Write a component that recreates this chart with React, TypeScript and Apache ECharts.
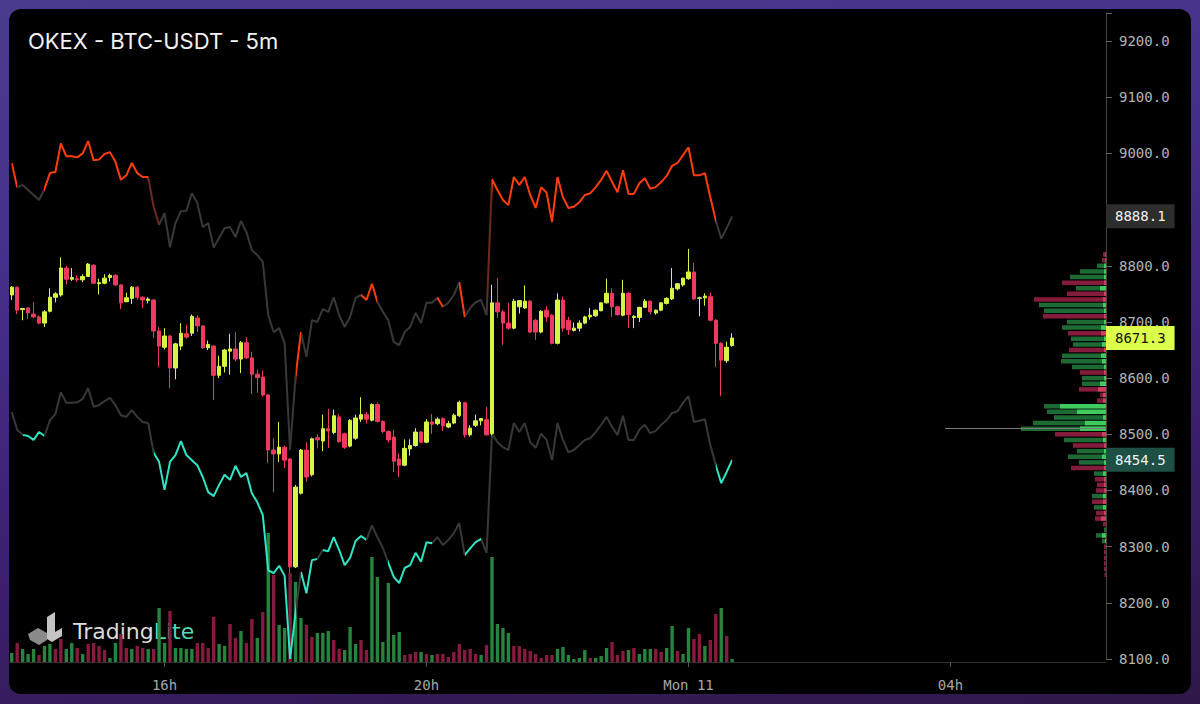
import { useEffect, useRef } from 'react';
import * as echarts from 'echarts';

// ---------- DATA ----------
const START_MINUTE = 13 * 60 + 40; // first candle 13:40
const STEP_MIN = 5;
const SLOT_COUNT = 201; // axis runs to 06:20
const AXIS_MARKS = ['16:00', '20:00', '00:00', '04:00'];

// [open, close, low, high]
const CANDLES: number[][] = [
  [8748, 8762, 8739, 8764], [8762, 8721, 8714, 8763], [8722, 8724, 8703, 8725], [8725, 8716, 8705, 8726],
  [8714, 8709, 8707, 8735], [8709, 8698, 8696, 8712], [8698, 8718, 8691, 8721], [8719, 8744, 8717, 8760],
  [8744, 8750, 8735, 8753], [8748, 8796, 8745, 8815], [8796, 8776, 8767, 8800], [8776, 8779, 8773, 8796],
  [8777, 8775, 8771, 8783], [8775, 8781, 8771, 8785], [8781, 8803, 8780, 8805], [8801, 8769, 8768, 8803],
  [8768, 8770, 8749, 8777], [8769, 8778, 8767, 8785], [8779, 8783, 8772, 8786], [8783, 8766, 8764, 8785],
  [8766, 8734, 8723, 8767], [8736, 8743, 8735, 8752], [8742, 8762, 8732, 8764], [8762, 8744, 8739, 8764],
  [8744, 8739, 8725, 8746], [8738, 8741, 8733, 8744], [8739, 8684, 8671, 8741], [8684, 8657, 8620, 8691],
  [8655, 8675, 8651, 8689], [8675, 8618, 8582, 8677], [8618, 8661, 8598, 8663], [8657, 8680, 8650, 8698],
  [8679, 8673, 8670, 8695], [8680, 8710, 8675, 8713], [8707, 8693, 8682, 8712], [8693, 8654, 8652, 8694],
  [8654, 8660, 8650, 8667], [8657, 8605, 8561, 8659], [8605, 8621, 8600, 8640], [8621, 8650, 8610, 8652],
  [8648, 8652, 8606, 8679], [8652, 8634, 8630, 8682], [8634, 8663, 8609, 8666], [8663, 8636, 8634, 8673],
  [8636, 8607, 8572, 8647], [8607, 8601, 8574, 8615], [8602, 8570, 8567, 8614], [8570, 8472, 8449, 8572],
  [8472, 8465, 8397, 8493], [8465, 8477, 8451, 8522], [8477, 8454, 8440, 8480], [8456, 8264, 8253, 8458],
  [8264, 8406, 8262, 8410], [8395, 8472, 8393, 8474], [8472, 8424, 8416, 8486], [8428, 8492, 8425, 8494],
  [8494, 8490, 8475, 8500], [8488, 8510, 8470, 8535], [8510, 8506, 8476, 8545], [8503, 8533, 8500, 8544],
  [8531, 8487, 8485, 8536], [8501, 8477, 8474, 8503], [8479, 8525, 8477, 8527], [8493, 8529, 8490, 8535],
  [8527, 8535, 8522, 8566], [8535, 8527, 8519, 8540], [8525, 8553, 8523, 8555], [8553, 8523, 8521, 8557],
  [8523, 8505, 8502, 8525], [8505, 8490, 8485, 8507], [8495, 8452, 8433, 8508], [8456, 8445, 8424, 8466],
  [8445, 8475, 8443, 8491], [8474, 8480, 8462, 8491], [8480, 8504, 8478, 8511], [8504, 8486, 8484, 8506],
  [8486, 8522, 8484, 8527], [8522, 8518, 8501, 8536], [8519, 8527, 8516, 8530], [8528, 8515, 8506, 8530],
  [8513, 8519, 8511, 8524], [8520, 8534, 8518, 8537], [8533, 8557, 8531, 8560], [8556, 8499, 8494, 8558],
  [8499, 8511, 8496, 8516], [8516, 8524, 8513, 8535], [8524, 8528, 8516, 8529], [8526, 8499, 8498, 8549],
  [8501, 8734, 8498, 8766], [8734, 8718, 8707, 8778], [8718, 8698, 8659, 8722], [8698, 8689, 8686, 8734],
  [8689, 8737, 8687, 8741], [8727, 8738, 8715, 8739], [8725, 8737, 8723, 8765], [8737, 8682, 8680, 8739],
  [8703, 8682, 8668, 8705], [8682, 8719, 8680, 8721], [8721, 8709, 8700, 8728], [8712, 8662, 8660, 8714],
  [8662, 8739, 8660, 8751], [8739, 8689, 8683, 8745], [8703, 8686, 8677, 8709], [8685, 8689, 8683, 8699],
  [8689, 8698, 8683, 8703], [8698, 8709, 8696, 8711], [8709, 8712, 8704, 8725], [8711, 8721, 8709, 8722],
  [8720, 8734, 8719, 8735], [8734, 8751, 8733, 8777], [8751, 8727, 8709, 8760], [8727, 8713, 8711, 8729],
  [8712, 8751, 8710, 8775], [8751, 8713, 8689, 8753], [8708, 8710, 8689, 8712], [8708, 8726, 8700, 8727],
  [8726, 8737, 8725, 8741], [8737, 8718, 8714, 8738], [8716, 8721, 8713, 8722], [8721, 8734, 8719, 8735],
  [8733, 8742, 8731, 8744], [8741, 8760, 8739, 8796], [8759, 8768, 8756, 8769], [8766, 8778, 8763, 8779],
  [8777, 8789, 8775, 8830], [8789, 8741, 8739, 8805], [8742, 8743, 8710, 8745], [8743, 8746, 8729, 8751],
  [8745, 8703, 8701, 8752], [8703, 8662, 8620, 8705], [8662, 8632, 8568, 8664], [8631, 8655, 8627, 8665],
  [8658, 8671.3, 8656, 8680],
];

const UPPER_BAND = [
  8983, 8940, 8944, 8935, 8926, 8917, 8937, 8965, 8967, 9018,
  8995, 8995, 8993, 9000, 9022, 8988, 8989, 8999, 9002, 8985,
  8953, 8961, 8983, 8965, 8958, 8958, 8905, 8873, 8894, 8833,
  8876, 8897, 8898, 8929, 8912, 8869, 8876, 8832, 8850, 8867,
  8869, 8851, 8880, 8860, 8828, 8819, 8807, 8712, 8682, 8689,
  8662, 8472, 8602, 8682, 8638, 8703, 8700, 8723, 8718, 8744,
  8712, 8691, 8709, 8743, 8748, 8739, 8768, 8736, 8718, 8703,
  8664, 8659, 8682, 8691, 8716, 8698, 8734, 8734, 8743, 8727,
  8734, 8748, 8771, 8709, 8725, 8735, 8739, 8712, 8954, 8935,
  8917, 8908, 8958, 8944, 8958, 8926, 8903, 8940, 8930, 8878,
  8958, 8922, 8903, 8905, 8913, 8926, 8929, 8940, 8953, 8969,
  8949, 8931, 8970, 8928, 8928, 8947, 8956, 8937, 8940, 8949,
  8960, 8978, 8983, 8997, 9011, 8961, 8961, 8965, 8922, 8881,
  8848, 8867, 8888.1,
];

const LOWER_BAND = [
  8540, 8508, 8499, 8497, 8490, 8504, 8497, 8525, 8536, 8575,
  8556, 8556, 8557, 8563, 8582, 8549, 8552, 8559, 8565, 8552,
  8534, 8531, 8543, 8531, 8522, 8520, 8467, 8451, 8401, 8451,
  8463, 8488, 8463, 8454, 8445, 8424, 8397, 8390, 8410, 8428,
  8419, 8444, 8424, 8431, 8395, 8379, 8356, 8258, 8253, 8266,
  8248, 8100, 8182, 8255, 8217, 8276, 8278, 8294, 8292, 8317,
  8294, 8267, 8280, 8310, 8319, 8312, 8338, 8317, 8298, 8271,
  8246, 8235, 8262, 8267, 8289, 8273, 8308, 8306, 8317, 8303,
  8312, 8324, 8342, 8285, 8297, 8308, 8314, 8289, 8502, 8486,
  8477, 8472, 8520, 8504, 8520, 8486, 8476, 8501, 8490, 8454,
  8520, 8490, 8468, 8472, 8481, 8490, 8493, 8504, 8517, 8531,
  8513, 8499, 8533, 8490, 8490, 8508, 8517, 8502, 8506, 8517,
  8525, 8538, 8541, 8556, 8568, 8522, 8524, 8527, 8481, 8445,
  8413, 8433, 8454.5,
];

// coloured stretches of the bands (candle index ranges)
const UPPER_HOT = [[0, 1], [6, 25], [51.8, 53], [64, 67], [78, 79], [81.6, 83], [88, 129.3]];
const UPPER_FADE = [[25, 26.6], [87, 88]];
const LOWER_HOT = [[2, 5.6], [25.6, 52], [53, 56], [57, 64.5], [68.5, 77], [82.6, 86], [128.5, 132]];

const VOLUME = [
  9, 19, 13, 8, 13, 7, 16, 18, 13, 23,
  13, 19, 14, 8, 18, 19, 16, 12, 4, 19,
  28, 14, 13, 16, 14, 13, 13, 54, 19, 51,
  14, 14, 13, 13, 19, 19, 14, 45, 18, 16,
  38, 24, 31, 19, 43, 24, 50, 129, 87, 37,
  34, 89, 80, 44, 37, 25, 29, 29, 31, 22,
  13, 12, 35, 18, 22, 12, 105, 85, 20, 79,
  27, 30, 7, 8, 10, 10, 8, 7, 8, 8,
  5, 10, 18, 12, 13, 8, 7, 17, 105, 38,
  34, 29, 16, 16, 13, 11, 8, 4, 7, 7,
  13, 15, 7, 3, 4, 12, 4, 4, 6, 14,
  20, 7, 11, 12, 14, 8, 13, 13, 13, 10,
  14, 36, 11, 8, 34, 23, 28, 16, 22, 48,
  54, 26, 3,
];
const VOLUME_SIDE =
  'grgggrggrr' + 'ggrgrrrrgg' + 'rrgrrgrggr' + 'ggggrrrrgg' + 'rrgrrgrgrg' +
  'grggrrgggr' + 'rgggrrgggg' + 'ggrrrgrgrr' + 'rrrrrrgrgg' + 'ggrrrrrrrr' +
  'ggggggrggg' + 'rrrgrgggrr' + 'ggrggrrgrr' + 'grg';

// volume profile (price level -> volume, highlighted part, side)
const PROFILE_PRICES = [
  8250, 8260, 8270, 8280, 8290, 8300, 8310, 8320, 8330, 8340,
  8350, 8360, 8370, 8380, 8390, 8400, 8410, 8420, 8430, 8440,
  8450, 8460, 8470, 8480, 8490, 8500, 8510, 8520, 8530, 8540,
  8550, 8560, 8570, 8580, 8590, 8600, 8610, 8620, 8630, 8640,
  8650, 8660, 8670, 8680, 8690, 8700, 8710, 8720, 8730, 8740,
  8750, 8760, 8770, 8780, 8790, 8800, 8810, 8820,
];
const PROFILE_VOLUME = [
  1.5, 2, 2, 2, 2, 2, 4, 10, 2, 3,
  11, 10, 12, 14, 14, 10, 9, 11, 12, 35,
  27, 38, 29, 33, 42, 51, 85, 73, 52, 59,
  62, 9, 6, 27, 24, 24, 26, 34, 45, 44,
  37, 33, 35, 38, 44, 39, 63, 62, 67, 72,
  39, 30, 44, 36, 26, 9, 4, 3,
];
const PROFILE_BRIGHT = [
  0, 0, 0, 0, 0, 0, 1, 4, 0, 0,
  5, 2, 3, 3, 3, 2, 2, 2, 3, 2,
  2, 4, 2, 2, 3, 4, 26, 21, 3, 29,
  46, 3, 3, 8, 6, 2, 2, 2, 4, 5,
  2, 4, 2, 5, 5, 2, 2, 2, 3, 3,
  2, 6, 2, 2, 2, 2, 1, 1,
];
const PROFILE_SIDE =
  'rrrrrrggg' + 'rrrgrgrrrgr' + 'gggrgrgggg' + 'grrrggrggg' + 'rggrggrggr' + 'rgrgggrrg';
const POC_PRICE = '8510';

const LAST_LABELS = { upper: 8888.1, close: 8671.3, lower: 8454.5 };

// ---------- STYLE ----------
const UP = '#d6f545';
const DOWN = '#ef3a60';
const ORANGE = '#ff3d0c';
const FADE = '#6a2a1c';
const GRAY = '#383838';
const TEAL = '#2ee6c4';
const MONO = "'DejaVu Sans Mono', monospace";

const PX_PER_USD = (659 - 13) / (9250 - 8100);

function buildOption() {
  const times: string[] = [];
  for (let i = 0; i < SLOT_COUNT; i++) {
    const m = (START_MINUTE + STEP_MIN * i) % 1440;
    times.push(`${String(Math.floor(m / 60)).padStart(2, '0')}:${String(m % 60).padStart(2, '0')}`);
  }
  const isMark = (_i: number, v: string) => AXIS_MARKS.includes(v);

  const profCats: string[] = [];
  for (let p = 8100; p <= 9250; p += 10) profCats.push(String(p));
  const profDark = profCats.map((c) => {
    const i = PROFILE_PRICES.indexOf(Number(c));
    if (i < 0) return '-';
    return { value: PROFILE_VOLUME[i], itemStyle: { color: PROFILE_SIDE[i] === 'g' ? '#1d6a34' : '#861c3c' } };
  });
  const profBright = profCats.map((c) => {
    const i = PROFILE_PRICES.indexOf(Number(c));
    if (i < 0 || !PROFILE_BRIGHT[i]) return '-';
    return { value: PROFILE_BRIGHT[i], itemStyle: { color: PROFILE_SIDE[i] === 'g' ? '#3fcc5e' : '#d23e60' } };
  });

  const volData = VOLUME.map((v, i) => ({
    value: v,
    itemStyle: { color: VOLUME_SIDE[i] === 'g' ? '#26843e' : '#861b3d' },
  }));

  const pieces = (hot: number[][], hotColor: string, fade: number[][] = []) => [
    ...hot.map(([a, b]) => ({ gte: a, lte: b, color: hotColor })),
    ...fade.map(([a, b]) => ({ gt: a, lt: b, color: FADE })),
  ];

  const priceLabel = (value: number, bg: string, fg: string) => ({
    silent: true,
    symbol: 'none',
    lineStyle: { color: 'rgba(0,0,0,0)', width: 0, opacity: 1 },
    data: [{ yAxis: value }],
    label: {
      show: true,
      position: 'end',
      distance: 0,
      formatter: value.toFixed(1),
      color: fg,
      opacity: 1,
      backgroundColor: bg,
      padding: [5, 9, 5, 9],
      fontFamily: MONO,
      fontSize: 14,
    },
  });

  const profOffset = 5 * PX_PER_USD;

  return {
    animation: false,
    backgroundColor: 'transparent',
    title: {
      text: 'OKEX - BTC-USDT - 5m',
      left: 28,
      top: 30,
      padding: 0,
      textStyle: { color: '#f2f2f2', fontSize: 22, fontWeight: 'normal', fontFamily: 'Inter, sans-serif' },
    },
    grid: [
      { left: 9, right: 94, top: 13, bottom: 45 },
      { left: 9, right: 94, top: 500, bottom: 42 },
      { left: 945, right: 94, top: 13 - profOffset, bottom: 45 - profOffset },
    ],
    visualMap: [
      {
        type: 'piecewise', show: false, seriesIndex: 0, dimension: 0,
        pieces: pieces(UPPER_HOT, ORANGE, UPPER_FADE), outOfRange: { color: GRAY },
      },
      {
        type: 'piecewise', show: false, seriesIndex: 1, dimension: 0,
        pieces: pieces(LOWER_HOT, TEAL), outOfRange: { color: GRAY },
      },
    ],
    xAxis: [
      { gridIndex: 0, type: 'category', data: times, boundaryGap: true, show: false },
      {
        gridIndex: 1, type: 'category', data: times, boundaryGap: true,
        axisLine: { lineStyle: { color: '#333333' } },
        axisTick: { show: true, interval: isMark, alignWithLabel: true, length: 5, lineStyle: { color: '#555' } },
        axisLabel: {
          interval: isMark,
          formatter: (v: string) => (v === '00:00' ? 'Mon 11' : `${v.slice(0, 2)}h`),
          color: '#a6a6a6', fontFamily: MONO, fontSize: 14, margin: 16,
        },
        splitLine: { show: false },
      },
      { gridIndex: 2, type: 'value', min: 0, max: 161, inverse: true, show: false },
    ],
    yAxis: [
      {
        gridIndex: 0, type: 'value', position: 'right', min: 8100, max: 9250, interval: 100,
        axisLine: { show: true, lineStyle: { color: '#444' } },
        axisTick: { show: true, length: 6, lineStyle: { color: '#666' } },
        axisLabel: {
          formatter: (v: number) => (v % 100 === 0 ? v.toFixed(1) : ''),
          color: '#b4b4b4', fontFamily: MONO, fontSize: 14, margin: 13,
        },
        splitLine: { show: false },
      },
      { gridIndex: 1, type: 'value', min: 0, max: 162, show: false },
      { gridIndex: 2, type: 'category', data: profCats, boundaryGap: true, show: false },
    ],
    series: [
      {
        name: 'upper', type: 'line', xAxisIndex: 0, yAxisIndex: 0, data: UPPER_BAND,
        showSymbol: false, lineStyle: { width: 2 }, z: 1,
        markLine: priceLabel(LAST_LABELS.upper, '#2d2d2d', '#f2f2f2'),
      },
      {
        name: 'lower', type: 'line', xAxisIndex: 0, yAxisIndex: 0, data: LOWER_BAND,
        showSymbol: false, lineStyle: { width: 2 }, z: 1,
        markLine: priceLabel(LAST_LABELS.lower, '#1e5046', '#f2f2f2'),
      },
      {
        name: 'price', type: 'candlestick', xAxisIndex: 0, yAxisIndex: 0, data: CANDLES,
        barWidth: '72%', z: 3,
        itemStyle: { color: UP, color0: DOWN, borderColor: UP, borderColor0: DOWN, borderWidth: 1 },
        markLine: priceLabel(LAST_LABELS.close, '#dcff4c', '#111'),
      },
      {
        name: 'volume', type: 'bar', xAxisIndex: 1, yAxisIndex: 1, data: volData, barWidth: '62%', z: 0,
      },
      {
        name: 'profile', type: 'bar', xAxisIndex: 2, yAxisIndex: 2, data: profDark, barWidth: '80%',
        markLine: {
          silent: true, symbol: 'none', label: { show: false },
          lineStyle: { color: '#7a7a7a', width: 1, type: 'solid' },
          data: [[{ coord: [161, POC_PRICE] }, { coord: [0, POC_PRICE] }]],
        },
      },
      {
        name: 'profileBright', type: 'bar', xAxisIndex: 2, yAxisIndex: 2, data: profBright,
        barWidth: '80%', barGap: '-100%',
      },
    ],
    graphic: [
      {
        type: 'polygon', shape: { points: [[47, 617], [55, 612], [55, 632], [62, 628], [62, 636], [52, 642], [47, 639]] },
        style: { fill: '#c4c4c4' },
      },
      {
        type: 'polygon', shape: { points: [[28, 634], [38, 628], [47, 633], [47, 640], [39, 645], [30, 640]] },
        style: { fill: '#8a8a8a' },
      },
      {
        type: 'text', x: 73, y: 631,
        style: {
          text: '{a|Trading}{b|Lite}',
          verticalAlign: 'middle',
          rich: {
            a: { fill: '#dcdcdc', fontSize: 22, fontFamily: 'DejaVu Sans', fontWeight: 'normal' },
            b: { fill: '#4fdab9', fontSize: 22, fontFamily: 'DejaVu Sans', fontWeight: 'normal' },
          },
        },
      },
    ],
  };
}

export default function App() {
  const ref = useRef<HTMLDivElement>(null);
  useEffect(() => {
    if (!ref.current) return;
    const chart = echarts.init(ref.current, null, { renderer: 'svg', width: 1200, height: 704 });
    chart.setOption(buildOption() as any);
    return () => chart.dispose();
  }, []);
  return (
    <div
      style={{
        position: 'fixed', left: 0, top: 0, width: 1200, height: 704, overflow: 'hidden',
        background: 'linear-gradient(172deg, #4b3b8c 0%, #46308b 30%, #3d1f70 65%, #2e1848 100%)',
      }}
    >
      <div style={{ position: 'absolute', left: 9, top: 9, width: 1182, height: 685, background: '#000', borderRadius: 12 }} />
      <div ref={ref} style={{ position: 'absolute', left: 0, top: 0, width: 1200, height: 704 }} />
    </div>
  );
}
